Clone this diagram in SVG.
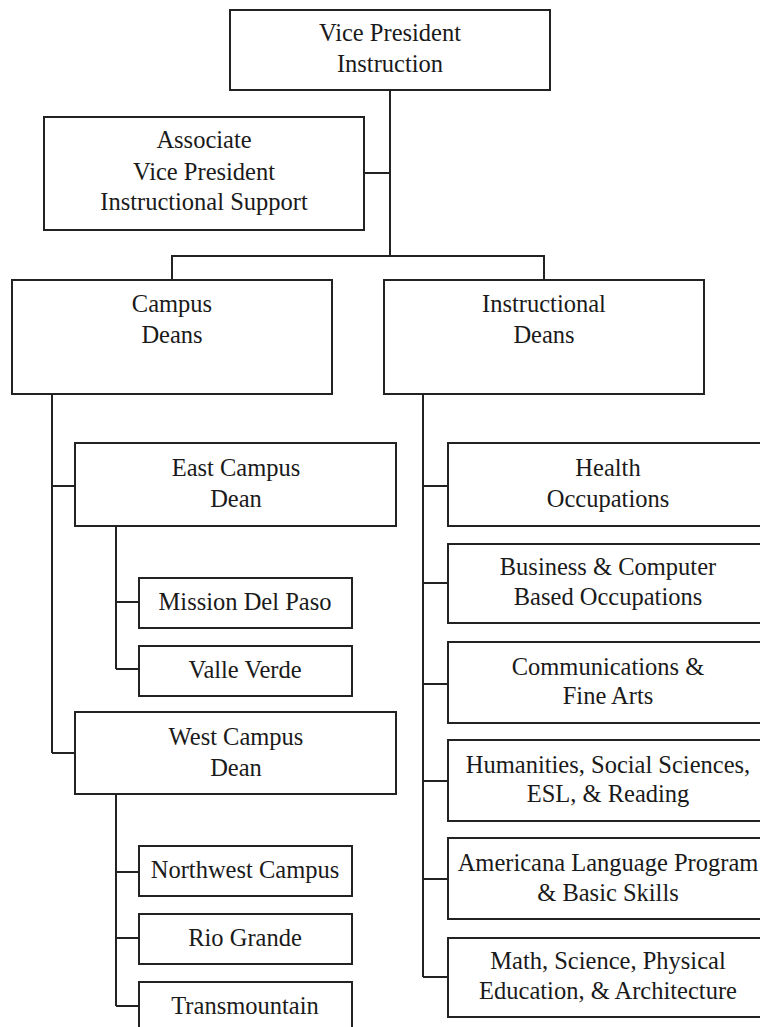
<svg xmlns="http://www.w3.org/2000/svg" width="760" height="1027" viewBox="0 0 760 1027" font-family="Liberation Serif, Times New Roman, serif">
  <style>
    .box { fill: #ffffff; stroke: #222222; stroke-width: 2; }
    .lbl { font-size: 24.5px; fill: #1a1a1a; text-anchor: middle; }
    .wire { fill: none; stroke: #222222; stroke-width: 2; }
  </style>
  <rect width="760" height="1027" fill="#ffffff"/>

  <!-- connectors -->
  <g id="connectors" class="wire">
    <!-- top level -->
    <path d="M390 90 V256"/>
    <path d="M364 173 H390"/>
    <path d="M172 280 V256 H544 V280"/>
    <!-- campus deans branch -->
    <path d="M52 394 V753"/>
    <path d="M52 486 H75"/>
    <path d="M52 753 H75"/>
    <path d="M116 526 V669"/>
    <path d="M116 602 H139"/>
    <path d="M116 669 H139"/>
    <path d="M116 794 V1006"/>
    <path d="M116 872 H139"/>
    <path d="M116 938 H139"/>
    <path d="M116 1006 H139"/>
    <!-- instructional deans branch -->
    <path d="M423 394 V977"/>
    <path d="M423 486 H448"/>
    <path d="M423 583 H448"/>
    <path d="M423 684 H448"/>
    <path d="M423 781 H448"/>
    <path d="M423 879 H448"/>
    <path d="M423 977 H448"/>
  </g>

  <g id="vp-instruction">
    <rect class="box" x="230" y="10" width="320" height="80"/>
    <text class="lbl" x="390" y="41">Vice President</text>
    <text class="lbl" x="390" y="72">Instruction</text>
  </g>

  <g id="avp-support">
    <rect class="box" x="44" y="117" width="320" height="113"/>
    <text class="lbl" x="204" y="148">Associate</text>
    <text class="lbl" x="204" y="180">Vice President</text>
    <text class="lbl" x="204" y="210">Instructional Support</text>
  </g>

  <g id="campus-deans">
    <rect class="box" x="12" y="280" width="320" height="114"/>
    <text class="lbl" x="172" y="312">Campus</text>
    <text class="lbl" x="172" y="343">Deans</text>
  </g>

  <g id="instructional-deans">
    <rect class="box" x="384" y="280" width="320" height="114"/>
    <text class="lbl" x="544" y="312">Instructional</text>
    <text class="lbl" x="544" y="343">Deans</text>
  </g>

  <g id="east-campus-dean">
    <rect class="box" x="75" y="443" width="321" height="83"/>
    <text class="lbl" x="236" y="476">East Campus</text>
    <text class="lbl" x="236" y="507">Dean</text>
  </g>

  <g id="mission-del-paso">
    <rect class="box" x="139" y="578" width="213" height="50"/>
    <text class="lbl" x="245" y="610">Mission Del Paso</text>
  </g>

  <g id="valle-verde">
    <rect class="box" x="139" y="646" width="213" height="50"/>
    <text class="lbl" x="245" y="678">Valle Verde</text>
  </g>

  <g id="west-campus-dean">
    <rect class="box" x="75" y="712" width="321" height="82"/>
    <text class="lbl" x="236" y="745">West Campus</text>
    <text class="lbl" x="236" y="776">Dean</text>
  </g>

  <g id="northwest-campus">
    <rect class="box" x="139" y="846" width="213" height="50"/>
    <text class="lbl" x="245" y="878">Northwest Campus</text>
  </g>

  <g id="rio-grande">
    <rect class="box" x="139" y="914" width="213" height="50"/>
    <text class="lbl" x="245" y="946">Rio Grande</text>
  </g>

  <g id="transmountain">
    <rect class="box" x="139" y="982" width="213" height="50"/>
    <text class="lbl" x="245" y="1014">Transmountain</text>
  </g>

  <g id="health-occupations">
    <rect class="box" x="448" y="443" width="320" height="83"/>
    <text class="lbl" x="608" y="476">Health</text>
    <text class="lbl" x="608" y="507">Occupations</text>
  </g>

  <g id="business-computer">
    <rect class="box" x="448" y="544" width="320" height="79"/>
    <text class="lbl" x="608" y="575">Business &amp; Computer</text>
    <text class="lbl" x="608" y="605">Based Occupations</text>
  </g>

  <g id="communications-arts">
    <rect class="box" x="448" y="642" width="320" height="81"/>
    <text class="lbl" x="608" y="675">Communications &amp;</text>
    <text class="lbl" x="608" y="704">Fine Arts</text>
  </g>

  <g id="humanities">
    <rect class="box" x="448" y="740" width="320" height="81"/>
    <text class="lbl" x="608" y="773">Humanities, Social Sciences,</text>
    <text class="lbl" x="608" y="802">ESL, &amp; Reading</text>
  </g>

  <g id="americana-language">
    <rect class="box" x="448" y="838" width="320" height="81"/>
    <text class="lbl" x="608" y="871">Americana Language Program</text>
    <text class="lbl" x="608" y="901">&amp; Basic Skills</text>
  </g>

  <g id="math-science">
    <rect class="box" x="448" y="938" width="320" height="79"/>
    <text class="lbl" x="608" y="969">Math, Science, Physical</text>
    <text class="lbl" x="608" y="999">Education, &amp; Architecture</text>
  </g>
</svg>
